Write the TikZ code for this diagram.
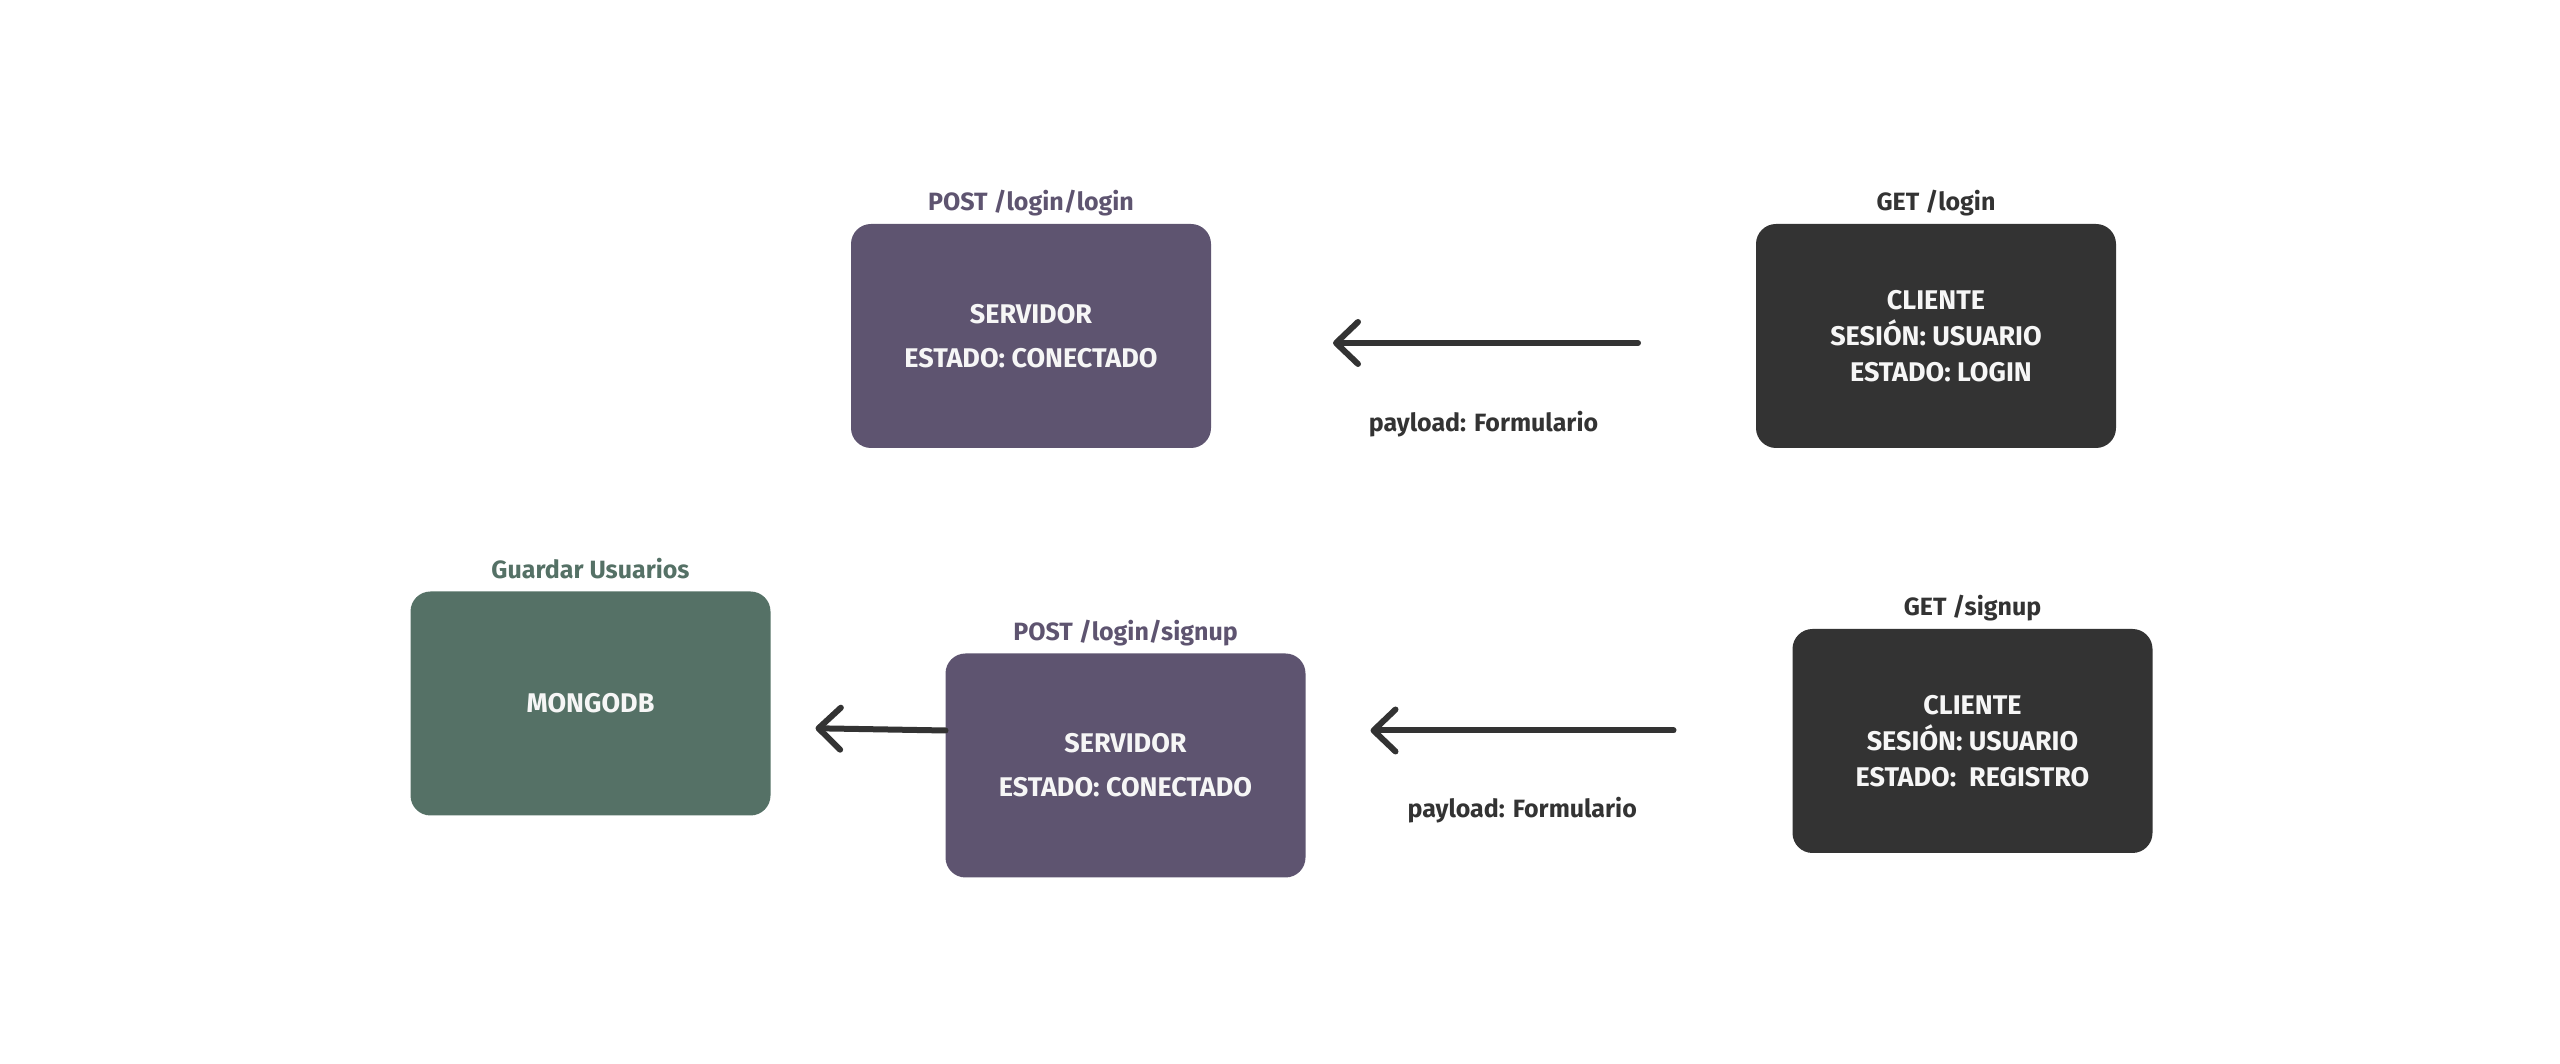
\documentclass[tikz,border=0pt]{standalone}
\usepackage{fontspec}
\setmainfont{Fira Sans}
\usetikzlibrary{arrows.meta,positioning}
\definecolor{morado}{HTML}{5E5470}
\definecolor{oscuro}{HTML}{333333}
\definecolor{verde}{HTML}{557166}
\definecolor{blanco}{HTML}{F6F6F6}

\begin{document}
\begin{tikzpicture}[
  x=1pt, y=1pt,
  caja/.style={rectangle, rounded corners=20pt, minimum width=360pt, minimum height=224pt, outer sep=0pt, align=center, text=blanco, font=\fontsize{27}{36}\selectfont\bfseries},
  servidor/.style={caja, fill=morado, font=\fontsize{27}{44}\selectfont\bfseries},
  cliente/.style={caja, fill=oscuro},
  base/.style={caja, fill=verde},
  titulo/.style={anchor=base, inner sep=0pt, font=\fontsize{25}{28}\selectfont\bfseries},
  etiqueta/.style={inner sep=0pt, text=oscuro, font=\fontsize{25}{28}\selectfont\bfseries},
  flecha/.style={draw=oscuro, line width=6pt, line cap=round, -{Straight Barb[length=22pt, width=42pt, line cap=round, line join=round]}}
]
\useasboundingbox (0,0) rectangle (2560,1064);

\node[cliente] (cli1) at (1936,728) {CLIENTE\\ SESIÓN: USUARIO\\ \hspace{10pt}ESTADO: LOGIN};
\node[servidor, left=545pt of cli1] (srv1) {SERVIDOR\\ ESTADO: CONECTADO};

\node[cliente, below=181pt of cli1, xshift=36.5pt] (cli2) {CLIENTE\\ SESIÓN: USUARIO\\ ESTADO:\ \ REGISTRO};
\node[servidor, left=487pt of cli2, yshift=-24.5pt] (srv2) {SERVIDOR\\ ESTADO: CONECTADO};
\node[base, left=175pt of srv2, yshift=62pt] (db) {MONGODB};

% titulos de cada caja
\node[titulo, text=morado] (tsrv1) at ([yshift=13pt]srv1.north) {POST /login/login};
\node[titulo, text=oscuro] (tcli1) at ([yshift=13pt]cli1.north) {GET /login};
\node[titulo, text=oscuro] (tcli2) at ([yshift=13pt]cli2.north) {GET /signup};
\node[titulo, text=morado] (tsrv2) at ([yshift=13pt]srv2.north) {POST /login/signup};
\node[titulo, text=verde] (tdb) at ([yshift=13pt]db.north) {Guardar Usuarios};

\draw[flecha, shorten <=118pt, shorten >=122pt] ([yshift=-7pt]cli1.west) -- node[etiqueta, below=65pt] {payload: Formulario} ([yshift=-7pt]cli1.west -| srv1.east);
\draw[flecha, shorten <=119pt, shorten >=65pt] ([yshift=10.5pt]cli2.west) -- node[etiqueta, pos=0.555, below=64pt] {payload: Formulario} ([yshift=10.5pt]cli2.west -| srv2.east);
\draw[flecha, shorten >=45pt] ([yshift=35pt]srv2.west) -- ([yshift=-24pt]db.east);
\end{tikzpicture}
\end{document}
